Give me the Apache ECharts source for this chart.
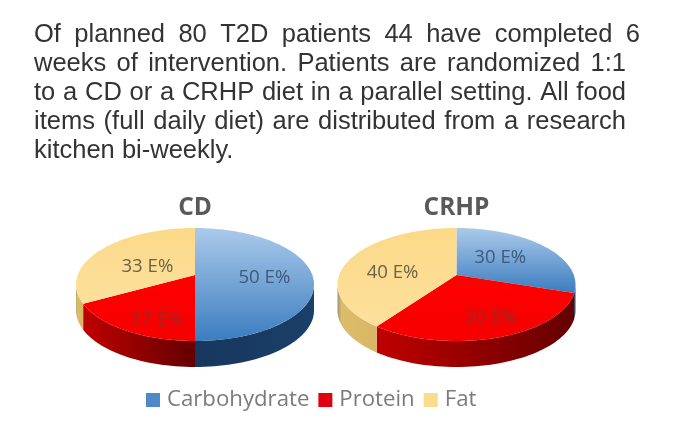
<!DOCTYPE html>
<html>
<head>
<meta charset="utf-8">
<style>html,body{margin:0;padding:0;background:#fff}#c{width:691px;height:423px;filter:blur(0.6px)}</style>
<script src="https://cdn.jsdelivr.net/npm/echarts@6/dist/echarts.min.js"></script>
</head>
<body>
<div id="c"></div>
<script>
const categories = ['Carbohydrate', 'Protein', 'Fat'];
const pieNames = ['CD', 'CRHP'];
const cdValues = [50, 17, 33];
const crhpValues = [30, 30, 40];
const unitLabel = ' E%';
const paragraphLines = [
  'Of planned 80 T2D patients 44 have completed 6',
  'weeks of intervention. Patients are randomized 1:1',
  'to a CD or a CRHP diet in a parallel setting. All food',
  'items (full daily diet) are distributed from a research',
  'kitchen bi-weekly.'
];

/* ---- styling and layout ---- */
const pieValues = [cdValues, crhpValues];
const pieCx = [195, 456.5], pieCy = 275, RX = 117.3, RY = 54.9, K = 0.168, DEPTH = 26;
const faceStops = [
  [[0, '#abcaea'], [1, '#3b7dc0']],
  [[0, '#ff0000'], [1, '#f60000']],
  [[0, '#fbd988'], [1, '#fde09c']]
];
const wallStops = [
  [[0, '#17375e'], [1, '#1a3f68']],
  [[0, '#c00000'], [1, '#640000']],
  [[0, '#9a9276'], [0.1, '#dcbb6a'], [1, '#d9b765']]
];
const labelColors = ['#3d5a7c', '#a02424', '#6b6248'];
const labelNudge = [[[-1, 3], [1, 14], [10, 8]], [[-10, 1], [10, 8], [1, 8]]];
const legendColors = ['#4f8ac8', '#e00010', '#fbdb8c'];
const paraFont = '25.5px "Liberation Sans", Arial, sans-serif';
const paraLeft = 34, paraRight = [640, 626, 626, 626, null], paraTop = [21.5, 50.5, 79.5, 108.5, 137.5];

function stops(list) { return list.map(s => ({ offset: s[0], color: s[1] })); }
function project(pie, deg, r, dy) {
  const t = deg * Math.PI / 180, c = Math.sin(t), s = -Math.cos(t), d = 1 - K * r * s;
  return [pieCx[pie] + RX * r * c / d, pieCy + RY * r * s / d + (dy || 0)];
}
function arc(pie, a, b, dy) {
  const pts = [], n = Math.max(2, Math.ceil(Math.abs(b - a) / 2));
  for (let i = 0; i <= n; i++) pts.push(project(pie, a + (b - a) * i / n, 1, dy));
  return pts;
}
const SIL = Math.acos(-K) * 180 / Math.PI;

function makeRender(cat) {
  return function (params, api) {
    const pie = api.value(0), a = api.value(1), b = api.value(2), v = api.value(3);
    const kids = [];
    const wa = Math.max(a, SIL), wb = Math.min(b, 360 - SIL);
    if (wb > wa) {
      kids.push({
        type: 'polygon', z2: 1,
        shape: { points: arc(pie, wa, wb, 0).concat(arc(pie, wb, wa, DEPTH)) },
        style: { fill: new echarts.graphic.LinearGradient(0, 0, 1, 0, stops(wallStops[cat])) }
      });
    }
    kids.push({
      type: 'polygon', z2: 2,
      shape: { points: [project(pie, 0, 0)].concat(arc(pie, a, b, 0)) },
      style: { fill: new echarts.graphic.LinearGradient(0, 0, 0, 1, stops(faceStops[cat])) }
    });
    const m = project(pie, (a + b) / 2, 0.6), nudge = labelNudge[pie][cat];
    kids.push({
      type: 'text', z2: 3,
      style: {
        text: v + unitLabel, x: m[0] + nudge[0], y: m[1] + nudge[1],
        align: 'center', verticalAlign: 'middle',
        font: '18.6px "Open Sans", sans-serif', fill: labelColors[cat]
      }
    });
    return { type: 'group', children: kids };
  };
}

const seriesList = categories.map(function (name, cat) {
  const data = pieValues.map(function (vals, pie) {
    const total = vals.reduce((p, q) => p + q, 0);
    const before = vals.slice(0, cat).reduce((p, q) => p + q, 0);
    return [pie, before / total * 360, (before + vals[cat]) / total * 360, vals[cat]];
  });
  return {
    type: 'custom', name: name, coordinateSystem: 'none', renderItem: makeRender(cat),
    data: data, itemStyle: { color: legendColors[cat] }, silent: true, animation: false
  };
});

const meas = document.createElement('canvas').getContext('2d');
meas.font = paraFont;
const paraWords = [];
paragraphLines.forEach(function (line, i) {
  const words = line.split(' ');
  const widths = words.map(w => meas.measureText(w).width);
  const sum = widths.reduce((p, q) => p + q, 0);
  const gap = paraRight[i] === null ? meas.measureText(' ').width
    : (paraRight[i] - paraLeft - sum) / (words.length - 1);
  let x = paraLeft;
  words.forEach(function (w, j) {
    paraWords.push({
      type: 'text', silent: true,
      style: { text: w, x: x, y: paraTop[i], font: paraFont, fill: '#333333',
        align: 'left', verticalAlign: 'top' }
    });
    x += widths[j] + gap;
  });
});

const chart = echarts.init(document.getElementById('c'), null, { renderer: 'canvas' });
chart.setOption({
  backgroundColor: '#fff',
  animation: false,
  title: pieNames.map((n, i) => ({
    text: n, left: pieCx[i] - 5, top: 191, textAlign: 'center',
    textStyle: { fontFamily: 'Open Sans', fontSize: 24.5, fontWeight: 'bold', color: '#595959' }
  })),
  legend: {
    data: categories, left: 141, top: 384, icon: 'rect', itemWidth: 14, itemHeight: 14, itemGap: 9,
    selectedMode: false,
    textStyle: { fontFamily: 'Open Sans', fontSize: 22.2, color: '#7b7b7b', padding: [0, 0, 0, 2] }
  },
  graphic: paraWords,
  series: seriesList
});
</script>
</body>
</html>
